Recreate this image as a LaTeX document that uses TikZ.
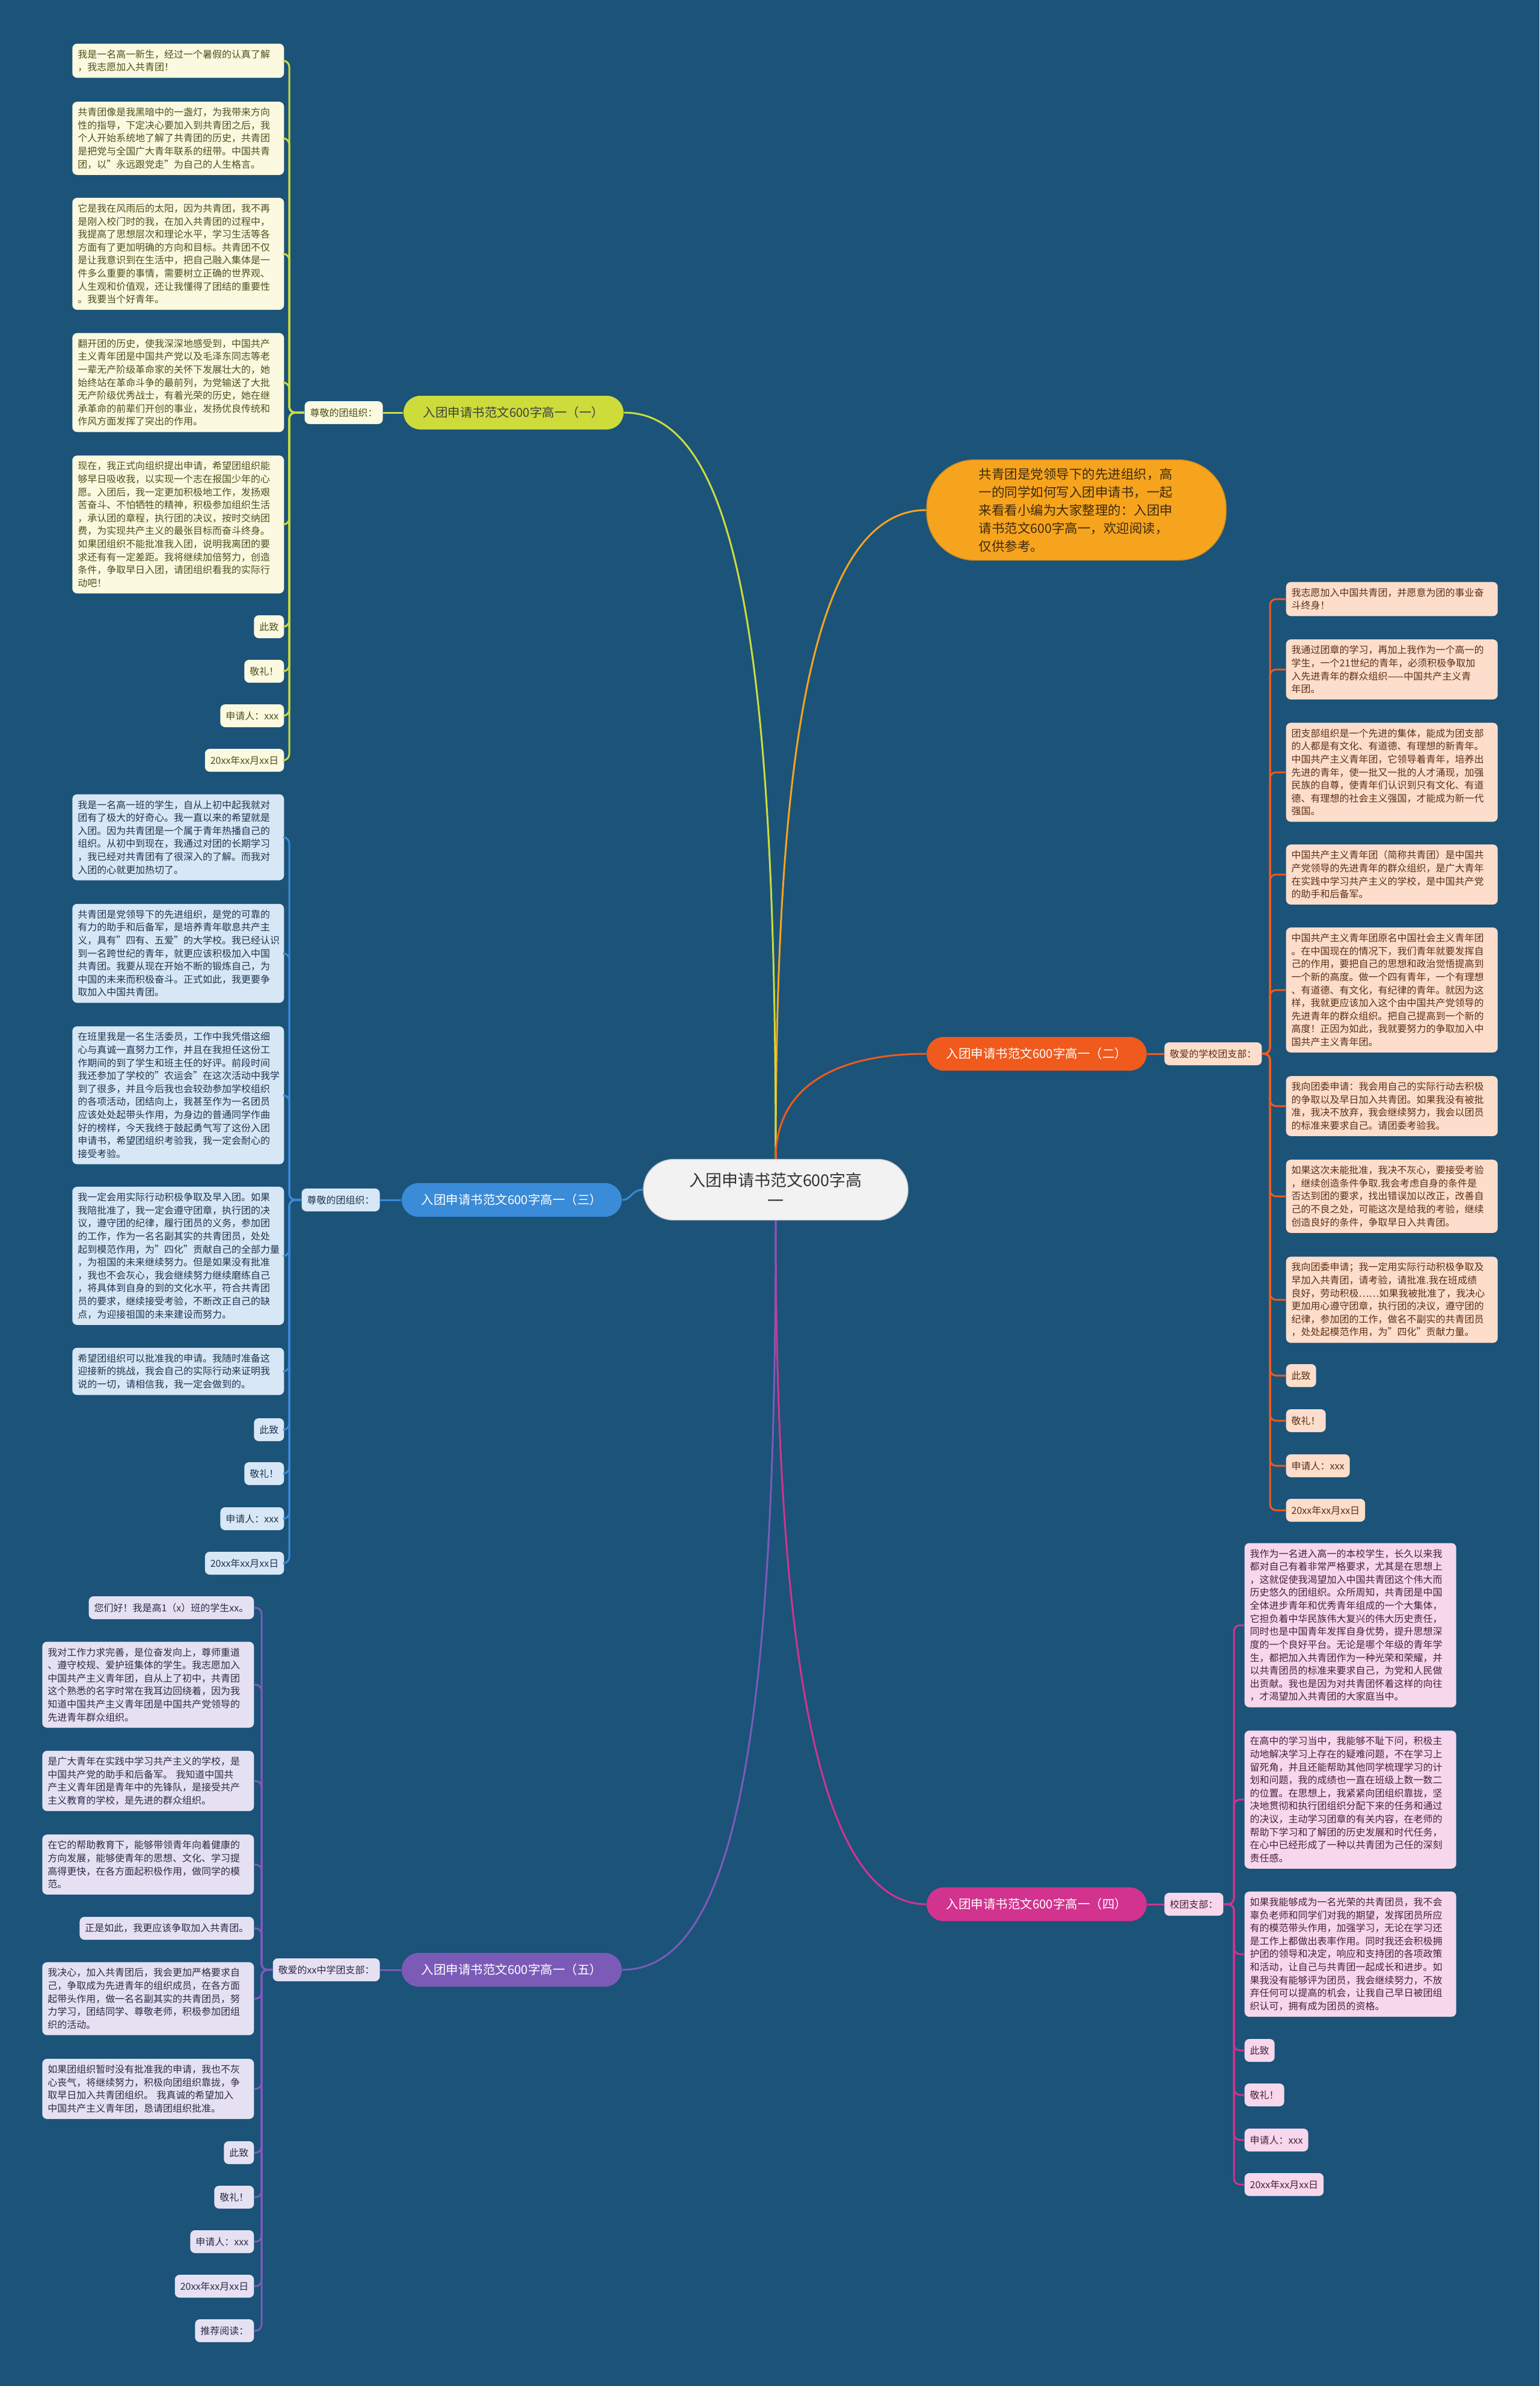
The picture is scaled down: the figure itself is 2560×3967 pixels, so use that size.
\documentclass[tikz,border=0pt]{standalone}
\usepackage{fontspec}
\setmainfont{Noto Sans CJK SC}
\usepackage{xcolor}
\usetikzlibrary{positioning}

\definecolor{bgblue}{HTML}{1B5379}
\definecolor{lime}{HTML}{CDDB3B}
\definecolor{fillA}{HTML}{FBF9DF}
\definecolor{inkA}{HTML}{4F4F1E}
\definecolor{redor}{HTML}{F05A1C}
\definecolor{fillB}{HTML}{FDDDCB}
\definecolor{inkB}{HTML}{5C3015}
\definecolor{sky}{HTML}{3A8BD8}
\definecolor{fillC}{HTML}{D7E7F5}
\definecolor{inkC}{HTML}{1E3550}
\definecolor{rose}{HTML}{D2338F}
\definecolor{fillD}{HTML}{F6D7EB}
\definecolor{inkD}{HTML}{4B1F3C}
\definecolor{violet}{HTML}{7C5BB8}
\definecolor{fillE}{HTML}{E5E1F2}
\definecolor{inkE}{HTML}{2E2A48}
\definecolor{amber}{HTML}{F6A41E}
\definecolor{amberink}{HTML}{3D2B0E}

\begin{document}
\begin{tikzpicture}[x=0.1mm,y=-0.1mm,
  leaf/.style={rectangle,rounded corners=0.8mm,inner xsep=0.9mm,inner ysep=1mm,minimum height=3.8mm,font=\fontsize{4.55pt}{6.15pt}\selectfont},
  para/.style={text width=33.4mm,align=left},
  branch/.style={rectangle,rounded corners=2.8mm,minimum width=36.6mm,minimum height=5.6mm,font=\fontsize{5.83pt}{7pt}\selectfont},
  conn/.style={line width=0.3mm},
  busline/.style={line width=0.3mm,rounded corners=1mm},
  colA/.style={fill=fillA,text=inkA},
  colB/.style={fill=fillB,text=inkB},
  colC/.style={fill=fillC,text=inkC},
  colD/.style={fill=fillD,text=inkD},
  colE/.style={fill=fillE,text=inkE}]
\useasboundingbox (0,0) rectangle (2560,3967);
\fill[bgblue] (0,0) rectangle (2560,3967);

% centre and intro
\node[rectangle,rounded corners=5mm,fill=black!5,draw=black!20,minimum width=44mm,minimum height=10.1mm,align=center,text=black!80,font=\fontsize{7.68pt}{9.6pt}\selectfont] (root) at (1290,1978) {入团申请书范文600字高\\一};
\node[rectangle,rounded corners=8mm,fill=amber,draw=amber!85!black,minimum width=49.8mm,minimum height=16.7mm,text width=32.5mm,align=left,text=amberink,font=\fontsize{6.12pt}{8.54pt}\selectfont] (intro) at (1790,848) {共青团是党领导下的先进组织，高\\一的同学如何写入团申请书，一起\\来看看小编为大家整理的：入团申\\请书范文600字高一，欢迎阅读，\\仅供参考。};

% branch nodes
\node[branch,fill=lime,text=black!75] (b1) at (854,686) {入团申请书范文600字高一（一）};
\node[branch,fill=redor,text=white] (b2) at (1724,1752) {入团申请书范文600字高一（二）};
\node[branch,fill=sky,text=white] (b3) at (851,1995) {入团申请书范文600字高一（三）};
\node[branch,fill=rose,text=white] (b4) at (1724,3166) {入团申请书范文600字高一（四）};
\node[branch,fill=violet,text=white] (b5) at (851,3275) {入团申请书范文600字高一（五）};

\node[leaf,colA,left=3.3mm of b1] (lb1) {尊敬的团组织：};
\node[leaf,colB,right=2.8mm of b2] (lb2) {敬爱的学校团支部：};
\node[leaf,colC,left=3.5mm of b3] (lb3) {尊敬的团组织：};
\node[leaf,colD,right=2.8mm of b4] (lb4) {校团支部：};
\node[leaf,colE,left=3.5mm of b5] (lb5) {敬爱的xx中学团支部：};

\coordinate (bus1) at (481,0);
\coordinate (bus2) at (2112,0);
\coordinate (bus3) at (481,0);
\coordinate (bus4) at (2052,0);
\coordinate (bus5) at (435,0);

% branch one
\node[leaf,para,colA,anchor=east] (n1a) at (473,101) {我是一名高一新生，经过一个暑假的认真了解\\，我志愿加入共青团！};
\node[leaf,para,colA,anchor=east] (n1b) at (473,230) {共青团像是我黑暗中的一盏灯，为我带来方向\\性的指导，下定决心要加入到共青团之后，我\\个人开始系统地了解了共青团的历史，共青团\\是把党与全国广大青年联系的纽带。中国共青\\团，以"永远跟党走"为自己的人生格言。};
\node[leaf,para,colA,anchor=east] (n1c) at (473,422) {它是我在风雨后的太阳，因为共青团，我不再\\是刚入校门时的我，在加入共青团的过程中，\\我提高了思想层次和理论水平，学习生活等各\\方面有了更加明确的方向和目标。共青团不仅\\是让我意识到在生活中，把自己融入集体是一\\件多么重要的事情，需要树立正确的世界观、\\人生观和价值观，还让我懂得了团结的重要性\\。我要当个好青年。};
\node[leaf,para,colA,anchor=east] (n1d) at (473,636) {翻开团的历史，使我深深地感受到，中国共产\\主义青年团是中国共产党以及毛泽东同志等老\\一辈无产阶级革命家的关怀下发展壮大的，她\\始终站在革命斗争的最前列，为党输送了大批\\无产阶级优秀战士，有着光荣的历史，她在继\\承革命的前辈们开创的事业，发扬优良传统和\\作风方面发挥了突出的作用。};
\node[leaf,para,colA,anchor=east] (n1e) at (473,872) {现在，我正式向组织提出申请，希望团组织能\\够早日吸收我，以实现一个志在报国少年的心\\愿。入团后，我一定更加积极地工作，发扬艰\\苦奋斗、不怕牺牲的精神，积极参加组织生活\\，承认团的章程，执行团的决议，按时交纳团\\费，为实现共产主义的最张目标而奋斗终身。\\如果团组织不能批准我入团，说明我离团的要\\求还有有一定差距。我将继续加倍努力，创造\\条件，争取早日入团，请团组织看我的实际行\\动吧！};
\node[leaf,colA,anchor=east] (n1f) at (473,1042) {此致};
\node[leaf,colA,anchor=east] (n1g) at (473,1116) {敬礼！};
\node[leaf,colA,anchor=east] (n1h) at (473,1190) {申请人：xxx};
\node[leaf,colA,anchor=east] (n1i) at (473,1264) {20xx年xx月xx日};

% branch three
\node[leaf,para,colC,anchor=east] (n3a) at (473,1392) {我是一名高一班的学生，自从上初中起我就对\\团有了极大的好奇心。我一直以来的希望就是\\入团。因为共青团是一个属于青年热播自己的\\组织。从初中到现在，我通过对团的长期学习\\，我已经对共青团有了很深入的了解。而我对\\入团的心就更加热切了。};
\node[leaf,para,colC,anchor=east] (n3b) at (473,1585) {共青团是党领导下的先进组织，是党的可靠的\\有力的助手和后备军，是培养青年歇息共产主\\义，具有"四有、五爱"的大学校。我已经认识\\到一名跨世纪的青年，就更应该积极加入中国\\共青团。我要从现在开始不断的锻炼自己，为\\中国的未来而积极奋斗。正式如此，我更要争\\取加入中国共青团。};
\node[leaf,para,colC,anchor=east] (n3c) at (473,1821) {在班里我是一名生活委员，工作中我凭借这细\\心与真诚一直努力工作，并且在我担任这份工\\作期间的到了学生和班主任的好评。前段时间\\我还参加了学校的"农运会"在这次活动中我学\\到了很多，并且今后我也会较劲参加学校组织\\的各项活动，团结向上，我甚至作为一名团员\\应该处处起带头作用，为身边的普通同学作曲\\好的榜样，今天我终于鼓起勇气写了这份入团\\申请书，希望团组织考验我，我一定会耐心的\\接受考验。};
\node[leaf,para,colC,anchor=east] (n3d) at (473,2088) {我一定会用实际行动积极争取及早入团。如果\\我陪批准了，我一定会遵守团章，执行团的决\\议，遵守团的纪律，履行团员的义务，参加团\\的工作，作为一名名副其实的共青团员，处处\\起到模范作用，为"四化"贡献自己的全部力量\\，为祖国的未来继续努力。但是如果没有批准\\，我也不会灰心，我会继续努力继续磨练自己\\，将具体到自身的到的文化水平，符合共青团\\员的要求，继续接受考验，不断改正自己的缺\\点，为迎接祖国的未来建设而努力。};
\node[leaf,para,colC,anchor=east] (n3e) at (473,2280) {希望团组织可以批准我的申请。我随时准备这\\迎接新的挑战，我会自己的实际行动来证明我\\说的一切，请相信我，我一定会做到的。};
\node[leaf,colC,anchor=east] (n3f) at (473,2377) {此致};
\node[leaf,colC,anchor=east] (n3g) at (473,2450) {敬礼！};
\node[leaf,colC,anchor=east] (n3h) at (473,2525) {申请人：xxx};
\node[leaf,colC,anchor=east] (n3i) at (473,2599) {20xx年xx月xx日};

% branch five
\node[leaf,colE,anchor=east] (n5a) at (423,2673) {您们好！我是高1（x）班的学生xx。};
\node[leaf,para,colE,anchor=east] (n5b) at (423,2801) {我对工作力求完善，是位奋发向上，尊师重道\\、遵守校规、爱护班集体的学生。我志愿加入\\中国共产主义青年团，自从上了初中，共青团\\这个熟悉的名字时常在我耳边回绕着，因为我\\知道中国共产主义青年团是中国共产党领导的\\先进青年群众组织。};
\node[leaf,para,colE,anchor=east] (n5c) at (423,2961) {是广大青年在实践中学习共产主义的学校，是\\中国共产党的助手和后备军。~我知道中国共\\产主义青年团是青年中的先锋队，是接受共产\\主义教育的学校，是先进的群众组织。};
\node[leaf,para,colE,anchor=east] (n5d) at (423,3100) {在它的帮助教育下，能够带领青年向着健康的\\方向发展，能够使青年的思想、文化、学习提\\高得更快，在各方面起积极作用，做同学的模\\范。};
\node[leaf,colE,anchor=east] (n5e) at (423,3206) {正是如此，我更应该争取加入共青团。};
\node[leaf,para,colE,anchor=east] (n5f) at (423,3323) {我决心，加入共青团后，我会更加严格要求自\\己，争取成为先进青年的组织成员，在各方面\\起带头作用，做一名名副其实的共青团员，努\\力学习，团结同学、尊敬老师，积极参加团组\\织的活动。};
\node[leaf,para,colE,anchor=east] (n5g) at (423,3473) {如果团组织暂时没有批准我的申请，我也不灰\\心丧气，将继续努力，积极向团组织靠拢，争\\取早日加入共青团组织。~我真诚的希望加入\\中国共产主义青年团，恳请团组织批准。};
\node[leaf,colE,anchor=east] (n5h) at (423,3579) {此致};
\node[leaf,colE,anchor=east] (n5i) at (423,3653) {敬礼！};
\node[leaf,colE,anchor=east] (n5j) at (423,3727) {申请人：xxx};
\node[leaf,colE,anchor=east] (n5k) at (423,3801) {20xx年xx月xx日};
\node[leaf,colE,anchor=east] (n5l) at (423,3875) {推荐阅读：};

% branch two
\node[leaf,para,colB,anchor=west] (n2a) at (2138,996) {我志愿加入中国共青团，并愿意为团的事业奋\\斗终身！};
\node[leaf,para,colB,anchor=west] (n2b) at (2138,1113) {我通过团章的学习，再加上我作为一个高一的\\学生，一个21世纪的青年，必须积极争取加\\入先进青年的群众组织——中国共产主义青\\年团。};
\node[leaf,para,colB,anchor=west] (n2c) at (2138,1284) {团支部组织是一个先进的集体，能成为团支部\\的人都是有文化、有道德、有理想的新青年。\\中国共产主义青年团，它领导着青年，培养出\\先进的青年，使一批又一批的人才涌现，加强\\民族的自尊，使青年们认识到只有文化、有道\\德、有理想的社会主义强国，才能成为新一代\\强国。};
\node[leaf,para,colB,anchor=west] (n2d) at (2138,1454) {中国共产主义青年团（简称共青团）是中国共\\产党领导的先进青年的群众组织，是广大青年\\在实践中学习共产主义的学校，是中国共产党\\的助手和后备军。};
\node[leaf,para,colB,anchor=west] (n2e) at (2138,1646) {中国共产主义青年团原名中国社会主义青年团\\。在中国现在的情况下，我们青年就要发挥自\\己的作用，要把自己的思想和政治觉悟提高到\\一个新的高度。做一个四有青年，一个有理想\\、有道德、有文化，有纪律的青年。就因为这\\样，我就更应该加入这个由中国共产党领导的\\先进青年的群众组织。把自己提高到一个新的\\高度！正因为如此，我就要努力的争取加入中\\国共产主义青年团。};
\node[leaf,para,colB,anchor=west] (n2f) at (2138,1839) {我向团委申请：我会用自己的实际行动去积极\\的争取以及早日加入共青团。如果我没有被批\\准，我决不放弃，我会继续努力，我会以团员\\的标准来要求自己。请团委考验我。};
\node[leaf,para,colB,anchor=west] (n2g) at (2138,1989) {如果这次未能批准，我决不灰心，要接受考验\\，继续创造条件争取.我会考虑自身的条件是\\否达到团的要求，找出错误加以改正，改善自\\己的不良之处，可能这次是给我的考验，继续\\创造良好的条件，争取早日入共青团。};
\node[leaf,para,colB,anchor=west] (n2h) at (2138,2161) {我向团委申请；我一定用实际行动积极争取及\\早加入共青团，请考验，请批准.我在班成绩\\良好，劳动积极……如果我被批准了，我决心\\更加用心遵守团章，执行团的决议，遵守团的\\纪律，参加团的工作，做名不副实的共青团员\\，处处起模范作用，为"四化"贡献力量。};
\node[leaf,colB,anchor=west] (n2i) at (2138,2287) {此致};
\node[leaf,colB,anchor=west] (n2j) at (2138,2362) {敬礼！};
\node[leaf,colB,anchor=west] (n2k) at (2138,2437) {申请人：xxx};
\node[leaf,colB,anchor=west] (n2l) at (2138,2511) {20xx年xx月xx日};

% branch four
\node[leaf,para,colD,anchor=west] (n4a) at (2069,2702) {我作为一名进入高一的本校学生，长久以来我\\都对自己有着非常严格要求，尤其是在思想上\\，这就促使我渴望加入中国共青团这个伟大而\\历史悠久的团组织。众所周知，共青团是中国\\全体进步青年和优秀青年组成的一个大集体，\\它担负着中华民族伟大复兴的伟大历史责任，\\同时也是中国青年发挥自身优势，提升思想深\\度的一个良好平台。无论是哪个年级的青年学\\生，都把加入共青团作为一种光荣和荣耀，并\\以共青团员的标准来要求自己，为党和人民做\\出贡献。我也是因为对共青团怀着这样的向往\\，才渴望加入共青团的大家庭当中。};
\node[leaf,para,colD,anchor=west] (n4b) at (2069,2992) {在高中的学习当中，我能够不耻下问，积极主\\动地解决学习上存在的疑难问题，不在学习上\\留死角，并且还能帮助其他同学梳理学习的计\\划和问题，我的成绩也一直在班级上数一数二\\的位置。在思想上，我紧紧向团组织靠拢，坚\\决地贯彻和执行团组织分配下来的任务和通过\\的决议，主动学习团章的有关内容，在老师的\\帮助下学习和了解团的历史发展和时代任务，\\在心中已经形成了一种以共青团为己任的深刻\\责任感。};
\node[leaf,para,colD,anchor=west] (n4c) at (2069,3249) {如果我能够成为一名光荣的共青团员，我不会\\辜负老师和同学们对我的期望，发挥团员所应\\有的模范带头作用，加强学习，无论在学习还\\是工作上都做出表率作用。同时我还会积极拥\\护团的领导和决定，响应和支持团的各项政策\\和活动，让自己与共青团一起成长和进步。如\\果我没有能够评为团员，我会继续努力，不放\\弃任何可以提高的机会，让我自己早日被团组\\织认可，拥有成为团员的资格。};
\node[leaf,colD,anchor=west] (n4d) at (2069,3409) {此致};
\node[leaf,colD,anchor=west] (n4e) at (2069,3483) {敬礼！};
\node[leaf,colD,anchor=west] (n4f) at (2069,3558) {申请人：xxx};
\node[leaf,colD,anchor=west] (n4g) at (2069,3632) {20xx年xx月xx日};

% main curves
\draw[conn,amber] (root.north) .. controls (1290,1300) and (1340,848) .. (intro.west);
\draw[conn,lime] (root.north) .. controls (1290,1100) and (1230,686) .. (b1.east);
\draw[conn,redor] (root.north) .. controls (1290,1800) and (1400,1752) .. (b2.west);
\draw[conn,sky] (root.west) .. controls (1050,1978) and (1050,1995) .. (b3.east);
\draw[conn,rose] (root.south) .. controls (1290,2700) and (1350,3166) .. (b4.west);
\draw[conn,violet] (root.south) .. controls (1290,2850) and (1230,3275) .. (b5.east);

% labels and leaves
\draw[conn,lime] (b1.west) -- (lb1.east);
\draw[conn,redor] (b2.east) -- (lb2.west);
\draw[conn,sky] (b3.west) -- (lb3.east);
\draw[conn,rose] (b4.east) -- (lb4.west);
\draw[conn,violet] (b5.west) -- (lb5.east);
\foreach \k in {a,b,c,d,e,f,g,h,i}
  \draw[busline,lime] (lb1.west) -- (lb1.west -| bus1) |- (n1\k.east);
\foreach \k in {a,b,c,d,e,f,g,h,i}
  \draw[busline,sky] (lb3.west) -- (lb3.west -| bus3) |- (n3\k.east);
\foreach \k in {a,b,c,d,e,f,g,h,i,j,k,l}
  \draw[busline,violet] (lb5.west) -- (lb5.west -| bus5) |- (n5\k.east);
\foreach \k in {a,b,c,d,e,f,g,h,i,j,k,l}
  \draw[busline,redor] (lb2.east) -- (lb2.east -| bus2) |- (n2\k.west);
\foreach \k in {a,b,c,d,e,f,g}
  \draw[busline,rose] (lb4.east) -- (lb4.east -| bus4) |- (n4\k.west);
\end{tikzpicture}
\end{document}
